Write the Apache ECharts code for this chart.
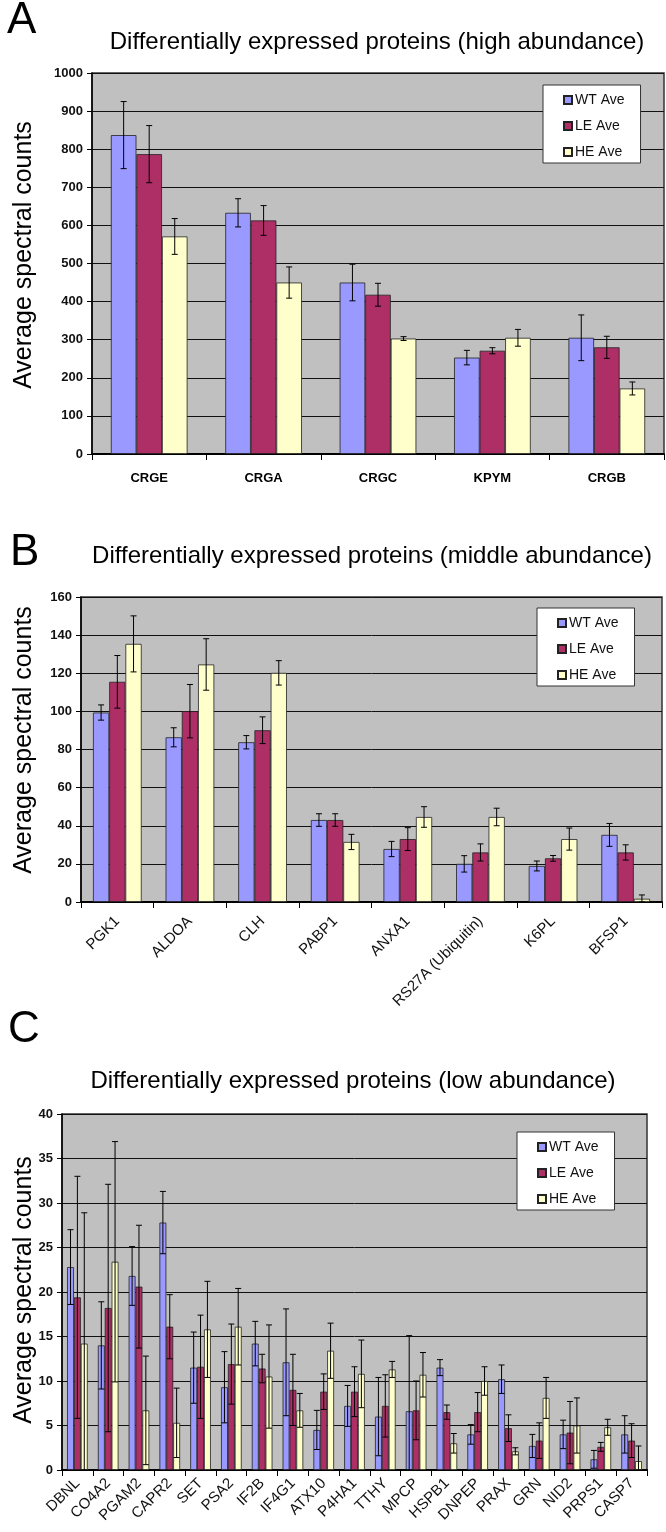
<!DOCTYPE html>
<html>
<head>
<meta charset="utf-8">
<script src="https://cdn.jsdelivr.net/npm/echarts@6/dist/echarts.min.js"></script>
<style>
html,body{margin:0;padding:0;background:#fff;}
#chart{width:666px;height:1532px;}
</style>
</head>
<body>
<div id="chart"></div>
<script>
// ---------- DATA ----------
const seriesNames = ['WT Ave', 'LE Ave', 'HE Ave'];

const categoriesA = ['CRGE', 'CRGA', 'CRGC', 'KPYM', 'CRGB'];
const wtA = [837, 633, 450, 253, 305];
const wtErrA = [88, 37, 48, 19, 60];
const leA = [787, 613, 418, 271, 280];
const leErrA = [75, 39, 30, 8, 29];
const heA = [571, 450, 303, 305, 172];
const heErrA = [47, 41, 5, 22, 17];
const ticksA = { min: 0, max: 1000, interval: 100 };

const categoriesB = ['PGK1', 'ALDOA', 'CLH', 'PABP1', 'ANXA1', 'RS27A (Ubiquitin)', 'K6PL', 'BFSP1'];
const wtB = [99.4, 86.4, 83.8, 43, 27.8, 20, 18.9, 35.2];
const wtErrB = [4, 5, 3.5, 3.3, 4, 4.3, 2.6, 6];
const leB = [115.5, 100.1, 90.1, 43, 33, 26, 22.9, 26];
const leErrB = [13.8, 14, 7, 3.3, 6, 4.5, 1.5, 4];
const heB = [135.4, 124.6, 120.2, 31.5, 44.6, 44.6, 33, 1.7];
const heErrB = [14.7, 13.5, 6.4, 4, 5.4, 4.6, 5.8, 2];
const ticksB = { min: 0, max: 160, interval: 20 };

const categoriesC = ['DBNL', 'CO4A2', 'PGAM2', 'CAPR2', 'SET', 'PSA2', 'IF2B', 'IF4G1', 'ATX10', 'P4HA1',
  'TTHY', 'MPCP', 'HSPB1', 'DNPEP', 'PRAX', 'GRN', 'NID2', 'PRPS1', 'CASP7'];
const wtC = [22.8, 14, 21.8, 27.8, 11.5, 9.3, 14.2, 12.1, 4.5, 7.2, 6, 6.6, 11.5, 4, 10.2, 2.7, 4, 1.2, 4];
const wtErrC = [4.2, 4.9, 3.3, 3.5, 4, 4, 2.5, 6, 2.2, 2.3, 4.4, 8.5, 0.9, 1.1, 1.6, 1.3, 1.6, 1, 2.1];
const leC = [19.4, 18.2, 20.6, 16.1, 11.6, 11.9, 11.4, 9, 8.8, 8.8, 7.2, 6.7, 6.5, 6.5, 4.7, 3.3, 4.2, 2.6, 3.3];
const leErrC = [13.6, 13.9, 6.9, 3.6, 5.8, 4.5, 1.6, 4, 2, 2.8, 3.5, 3.3, 0.8, 2.2, 1.5, 2, 3.5, 0.5, 1.9];
const heC = [14.2, 23.4, 6.7, 5.3, 15.8, 16.1, 10.5, 6.7, 13.4, 10.8, 11.3, 10.7, 3, 10, 2.1, 8.1, 5, 4.8, 1];
const heErrC = [14.7, 13.5, 6.1, 3.9, 5.4, 4.3, 5.8, 1.9, 3.1, 3.8, 0.9, 2.5, 1.1, 1.6, 0.4, 2.3, 3.1, 0.9, 1.7];
const ticksC = { min: 0, max: 40, interval: 5 };

const titles = [
  'Differentially expressed proteins (high abundance)',
  'Differentially expressed proteins (middle abundance)',
  'Differentially expressed proteins (low abundance)'
];
const panelLetters = ['A', 'B', 'C'];
const yName = 'Average spectral counts';

// ---------- STYLE ----------
const colors = ['#9999FF', '#AD2F66', '#FFFFCC'];
const FONT = '"Liberation Sans", Arial, Helvetica, sans-serif';
const CAT_GAP = 0.33;

const panels = [
  { cats: categoriesA, vals: [wtA, leA, heA], errs: [wtErrA, leErrA, heErrA], ticks: ticksA,
    grid: { left: 92, top: 73, width: 572, height: 381 },
    label: { fontWeight: 'bold', fontSize: 13, color: '#000', margin: 18, rotate: 0 },
    legend: { left: 543, top: 85 } },
  { cats: categoriesB, vals: [wtB, leB, heB], errs: [wtErrB, leErrB, heErrB], ticks: ticksB,
    grid: { left: 81, top: 597, width: 581, height: 305 },
    label: { fontWeight: 'normal', fontSize: 15, color: '#111', margin: 17, rotate: 45 },
    legend: { left: 537, top: 608 } },
  { cats: categoriesC, vals: [wtC, leC, heC], errs: [wtErrC, leErrC, heErrC], ticks: ticksC,
    grid: { left: 62, top: 1114, width: 585, height: 356 },
    label: { fontWeight: 'normal', fontSize: 15, color: '#111', margin: 11, rotate: 45 },
    legend: { left: 517, top: 1132 } }
];

function errRenderer(idx) {
  return function (params, api) {
    const ci = api.value(0), v = api.value(1), e = api.value(2);
    const c = api.coord([ci, v]);
    const band = api.size([1, 0])[0];
    const total = band * (1 - CAT_GAP);
    const bw = total / 3;
    const x = c[0] - total / 2 + bw * (idx + 0.5);
    const yTop = api.coord([ci, v + e])[1];
    const yBot = api.coord([ci, Math.max(0, v - e)])[1];
    const cap = 3;
    const st = { stroke: '#000', lineWidth: 1 };
    return {
      type: 'group',
      children: [
        { type: 'line', shape: { x1: x, y1: yTop, x2: x, y2: yBot }, style: st },
        { type: 'line', shape: { x1: x - cap, y1: yTop, x2: x + cap, y2: yTop }, style: st },
        { type: 'line', shape: { x1: x - cap, y1: yBot, x2: x + cap, y2: yBot }, style: st }
      ]
    };
  };
}

const grids = [], xAxes = [], yAxes = [], series = [], legends = [], graphics = [];

panels.forEach((p, pi) => {
  grids.push(Object.assign({
    show: true, backgroundColor: '#C0C0C0', borderColor: '#333', borderWidth: 1.5, containLabel: false
  }, p.grid));
  xAxes.push({
    type: 'category', gridIndex: pi, data: p.cats,
    axisLine: { lineStyle: { color: '#000', width: 2 } },
    axisTick: { show: true, length: 6, lineStyle: { color: '#000', width: 1 } },
    axisLabel: { interval: 0, fontFamily: FONT, fontWeight: p.label.fontWeight, fontSize: p.label.fontSize,
      color: p.label.color, margin: p.label.margin, rotate: p.label.rotate },
    splitLine: { show: false }
  });
  yAxes.push({
    type: 'value', gridIndex: pi, min: p.ticks.min, max: p.ticks.max, interval: p.ticks.interval,
    axisLine: { show: true, lineStyle: { color: '#000', width: 1.5 } },
    axisTick: { show: true, length: 5, lineStyle: { color: '#000', width: 1 } },
    axisLabel: { fontFamily: FONT, fontWeight: 'bold', fontSize: 13, color: '#111', margin: 9,
      formatter: (v) => String(v) },
    splitLine: { show: true, lineStyle: { color: '#111', width: 1 } }
  });
  for (let s = 0; s < 3; s++) {
    series.push({
      type: 'bar', name: seriesNames[s], xAxisIndex: pi, yAxisIndex: pi,
      data: p.vals[s], barGap: '0%', barCategoryGap: (CAT_GAP * 100) + '%',
      itemStyle: { color: colors[s], borderColor: '#222', borderWidth: 0.8 },
      emphasis: { disabled: true }, animation: false
    });
  }
  for (let s = 0; s < 3; s++) {
    series.push({
      type: 'custom', name: 'err_' + pi + '_' + s, xAxisIndex: pi, yAxisIndex: pi,
      data: p.vals[s].map((v, i) => [i, v, p.errs[s][i]]),
      encode: { x: 0, y: 1 }, renderItem: errRenderer(s), z: 5, clip: true, animation: false,
      silent: true
    });
  }
  legends.push({
    left: p.legend.left, top: p.legend.top, orient: 'vertical',
    data: seriesNames, backgroundColor: '#fff', borderColor: '#333', borderWidth: 1,
    padding: [8, 16, 4, 20], itemGap: 12, itemWidth: 8, itemHeight: 8, icon: 'rect',
    textStyle: { fontFamily: FONT, fontSize: 14, color: '#111', padding: [0, 0, 0, -2] },
    selectedMode: false
  });
});

// Titles, panel letters, y-axis names
const titleCenters = [[377, 42], [372, 556], [353, 1081]];
const letterPos = [[7, 21], [10, 553], [8, 1030]];
const yNameCenters = [[24, 255], [24, 740], [24, 1290]];
for (let i = 0; i < 3; i++) {
  graphics.push({ type: 'text', x: titleCenters[i][0], y: titleCenters[i][1],
    style: { text: titles[i], font: '24px ' + FONT, fill: '#000', align: 'center', verticalAlign: 'middle',
      textAlign: 'center', textVerticalAlign: 'middle' } });
  graphics.push({ type: 'text', x: letterPos[i][0], y: letterPos[i][1],
    style: { text: panelLetters[i], font: '44px ' + FONT, fill: '#000', align: 'left', verticalAlign: 'middle',
      textAlign: 'left', textVerticalAlign: 'middle' } });
  graphics.push({ type: 'text', x: yNameCenters[i][0], y: yNameCenters[i][1], rotation: Math.PI / 2,
    style: { text: yName, font: '25px ' + FONT, fill: '#000', align: 'center', verticalAlign: 'middle',
      textAlign: 'center', textVerticalAlign: 'middle' } });
}

const chart = echarts.init(document.getElementById('chart'), null, { renderer: 'canvas' });
chart.setOption({
  animation: false,
  backgroundColor: '#fff',
  grid: grids, xAxis: xAxes, yAxis: yAxes, series: series, legend: legends, graphic: graphics
});
</script>
</body>
</html>
